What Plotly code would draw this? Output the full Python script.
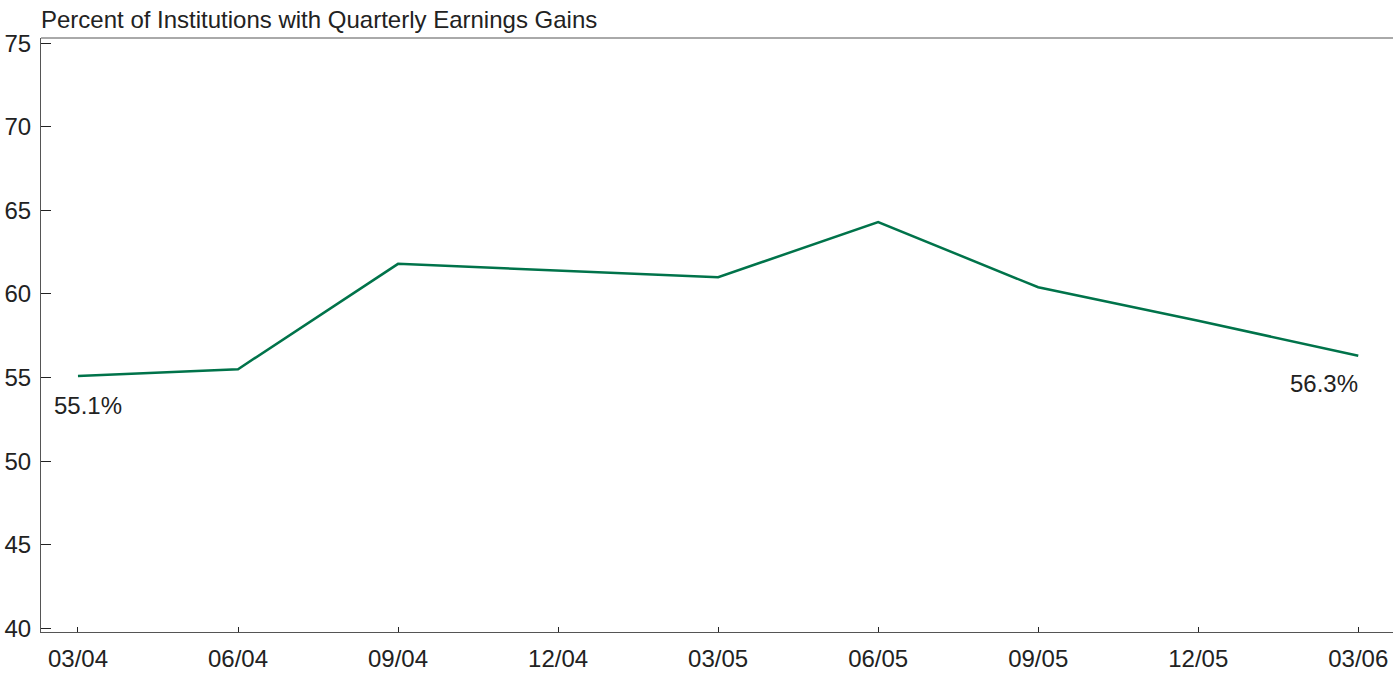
import plotly.graph_objects as go

quarters = ["03/04", "06/04", "09/04", "12/04", "03/05", "06/05", "09/05", "12/05", "03/06"]
pct_gains = [55.1, 55.5, 61.8, 61.4, 61.0, 64.3, 60.4, 58.4, 56.3]
y_ticks = [40, 45, 50, 55, 60, 65, 70, 75]
title_text = "Percent of Institutions with Quarterly Earnings Gains"

xi = list(range(len(quarters)))
font = "Liberation Sans, Arial, sans-serif"
axis_col = "#555555"
txt_col = "#222222"

fig = go.Figure()
fig.add_trace(go.Scatter(x=xi, y=pct_gains, mode="lines",
                         line=dict(color="#00734a", width=2.5), hoverinfo="skip"))

fig.add_annotation(x=xi[0], y=pct_gains[0], text=f"{pct_gains[0]:.1f}%", showarrow=False,
                   xanchor="left", yanchor="middle", xshift=-26, yshift=-30,
                   font=dict(family=font, size=24, color=txt_col))
fig.add_annotation(x=xi[-1], y=pct_gains[-1], text=f"{pct_gains[-1]:.1f}%", showarrow=False,
                   xanchor="right", yanchor="middle", xshift=2, yshift=-28,
                   font=dict(family=font, size=24, color=txt_col))
fig.add_annotation(xref="paper", yref="paper", x=0, y=1, yshift=3, xshift=-2, text=title_text,
                   showarrow=False, xanchor="left", yanchor="bottom",
                   font=dict(family=font, size=24, color=txt_col))

fig.add_shape(type="line", xref="paper", yref="paper", x0=0, x1=1, y0=1, y1=1,
              line=dict(color=axis_col, width=1))

fig.update_layout(
    width=1393, height=673,
    margin=dict(l=41, r=0, t=38, b=41),
    plot_bgcolor="white", paper_bgcolor="white",
    showlegend=False,
    font=dict(family=font, size=24, color=txt_col),
)
fig.update_xaxes(range=[-0.231, 8.217], tickvals=xi, ticktext=quarters,
                 ticks="inside", ticklen=5, tickcolor=txt_col, showgrid=False,
                 showline=True, linecolor=axis_col, linewidth=1, zeroline=False,
                 ticklabelstandoff=5, tickfont=dict(size=24))
fig.update_yaxes(range=[39.78, 75.31], tickvals=y_ticks,
                 ticks="inside", ticklen=10, tickcolor=txt_col, showgrid=False,
                 showline=True, linecolor=axis_col, linewidth=1, zeroline=False,
                 ticklabelstandoff=4, tickfont=dict(size=24))

fig.write_html("out.html", config={"displayModeBar": False},
               post_script="document.body.style.margin='0';document.body.style.overflow='hidden';")
